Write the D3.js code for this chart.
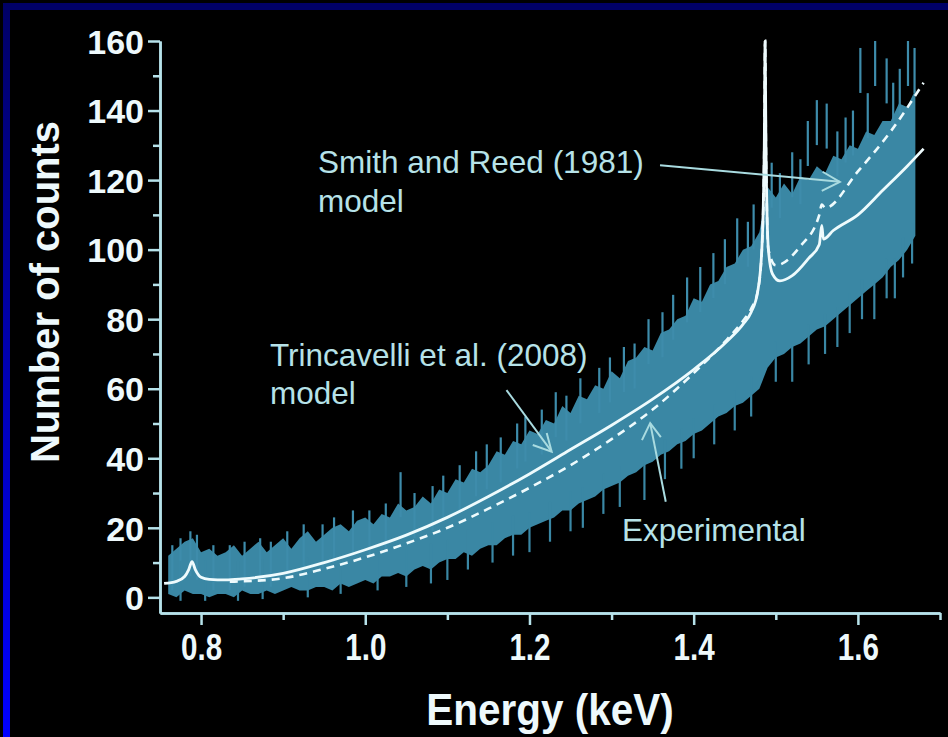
<!DOCTYPE html>
<html>
<head>
<meta charset="utf-8">
<script src="https://cdn.jsdelivr.net/npm/d3@7"></script>
<style>
  body { margin: 0; background: #000; }
  svg  { display: block; }
  .ticklab  { font-family: "Liberation Sans", Arial, sans-serif; font-weight: bold; fill: #eef9fc; }
  .note     { font-family: "Liberation Sans", Arial, sans-serif; fill: #b6e2e8; font-size: 31.5px; }
  .axistitle{ font-family: "Liberation Sans", Arial, sans-serif; font-weight: bold; fill: #eef9fc; }
</style>
</head>
<body>
<svg id="chart" width="948" height="737"></svg>
<script>
// tick values
var xMajor = [0.8, 1.0, 1.2, 1.4, 1.6];
var xMinor = [0.9, 1.1, 1.3, 1.5, 1.7];
var yMajor = [0, 20, 40, 60, 80, 100, 120, 140, 160];
var yMinor = [10, 30, 50, 70, 90, 110, 130, 150];

// experimental spectrum envelope: [energy keV, low, high]
var experimental = [
  [0.76,1,12],[0.77,0,14],[0.78,2,16],[0.79,1,17],[0.80,1,13],[0.81,0,14],[0.82,1,12],[0.83,1,13],
  [0.84,0,15],[0.85,2,12],[0.86,1,14],[0.87,1,16],[0.88,2,13],[0.89,1,15],[0.90,2,17],[0.91,3,14],
  [0.92,2,17],[0.93,2,19],[0.94,3,16],[0.95,3,18],[0.96,2,20],[0.97,4,21],[0.98,3,19],[0.99,4,22],
  [1.00,5,23],[1.01,4,21],[1.02,6,24],[1.03,6,23],[1.04,7,27],[1.05,6,25],[1.06,8,26],[1.07,9,29],
  [1.08,8,27],[1.09,10,31],[1.10,11,30],[1.11,11,34],[1.12,13,33],[1.13,12,37],[1.14,14,36],[1.15,15,38],
  [1.16,15,42],[1.17,17,41],[1.18,18,45],[1.19,18,44],[1.20,20,48],[1.21,21,47],[1.22,22,51],[1.23,23,50],
  [1.24,25,55],[1.25,25,53],[1.26,27,58],[1.27,28,57],[1.28,29,61],[1.29,31,60],[1.30,32,65],[1.31,33,63],
  [1.32,35,68],[1.33,36,69],[1.34,38,72],[1.35,39,71],[1.36,41,76],[1.37,42,77],[1.38,44,80],[1.39,45,81],
  [1.40,47,86],[1.41,48,85],[1.42,50,90],[1.43,52,91],[1.44,53,95],[1.45,55,96],[1.46,56,100],[1.47,58,101],
  [1.48,60,105],[1.49,66,118],[1.50,69,115],[1.51,70,119],[1.52,72,116],[1.53,73,121],[1.54,75,120],[1.55,77,124],
  [1.56,78,122],[1.57,80,127],[1.58,82,126],[1.59,84,130],[1.60,86,129],[1.61,88,134],[1.62,90,133],[1.63,92,137],
  [1.64,95,137],[1.65,97,142],[1.66,100,141],[1.67,104,146]
];

// single-channel spikes above the band: [energy, top]
var spikesUp = [
  [0.765,15],[0.775,17],[0.787,19],[0.795,18],[0.815,15],[0.835,15],[0.853,16],[0.872,17],[0.885,16],
  [0.905,19],[0.925,21],[0.948,21],[0.962,23],[0.985,25],[1.005,25],[1.025,27],[1.043,36],[1.06,30],
  [1.082,32],[1.095,35],[1.115,38],[1.135,42],[1.148,44],[1.165,46],[1.185,50],[1.195,52],[1.215,54],
  [1.232,59],[1.245,58],[1.262,63],[1.285,66],[1.298,69],[1.315,72],[1.328,73],[1.345,80],[1.362,82],
  [1.375,87],[1.392,92],[1.408,95],[1.424,99],[1.438,103],[1.453,109],[1.466,108],[1.473,113],[1.495,125],
  [1.505,122],[1.52,128],[1.53,126],[1.539,137],[1.55,143],[1.562,142],[1.575,134],[1.585,138],[1.594,140],
  [1.603,158],[1.612,145],[1.621,160],[1.635,155],[1.643,148],[1.651,152],[1.661,160],[1.669,158]
];
// single-channel dips below the band: [energy, bottom]
var spikesDown = [
  [0.775,-1],[0.805,-1],[0.845,-1],[0.875,-0.5],[0.93,0],[0.97,1],[1.015,2],[1.05,3],[1.08,4],[1.10,5],
  [1.125,8],[1.155,10],[1.18,12],[1.20,13],[1.225,16],[1.25,19],[1.265,20],[1.29,24],[1.31,26],[1.34,28],
  [1.365,34],[1.385,37],[1.40,40],[1.425,44],[1.45,48],[1.47,52],[1.50,62],[1.52,62],[1.54,67],[1.56,70],
  [1.575,72],[1.59,76],[1.605,80],[1.62,80],[1.635,86],[1.645,86],[1.655,92],[1.666,96]
];

// Trincavelli et al. (2008) model (solid)
var trincE = [0.755,0.77,0.78,0.785,0.789,0.793,0.80,0.81,0.83,0.85,0.90,0.95,1.00,1.05,1.10,1.15,1.20,1.25,1.30,1.35,1.40,1.44,1.46,1.47,1.478,1.483,1.486,1.487,1.488,1.491,1.496,1.505,1.52,1.54,1.553,1.556,1.558,1.57,1.60,1.63,1.66,1.68];
var trincY = [4.0,4.6,6,8,10.3,8,5.8,5.2,5.0,5.3,6.9,10,13.7,17.9,23,29,35.5,42.5,49.5,57,65.5,73.5,78.5,82,88,100,130,160,130,100,93,91,92.5,97.5,101.5,107,103,105.5,110,117,124,129];

// Smith and Reed (1981) model (dashed)
var smithE = [0.835,0.85,0.90,0.95,1.00,1.05,1.10,1.15,1.20,1.25,1.30,1.35,1.40,1.44,1.46,1.47,1.478,1.483,1.486,1.487,1.488,1.491,1.50,1.53,1.553,1.556,1.56,1.60,1.64,1.68];
var smithY = [4.5,4.6,5.5,8.2,11.5,15.5,20,25.5,31.5,38,45.5,54,64.5,74,79.5,83,88,100,130,160,130,100,95.5,101,110,113,112,122.5,134,148];

var svg = d3.select("#chart");

// frame
var grad = svg.append("defs").append("linearGradient")
    .attr("id", "leftbar").attr("x1", 0).attr("y1", 0).attr("x2", 0).attr("y2", 1);
grad.append("stop").attr("offset", "0%").attr("stop-color", "#000066");
grad.append("stop").attr("offset", "100%").attr("stop-color", "#0000ff");
svg.append("rect").attr("width", 948).attr("height", 737).attr("fill", "#000");
svg.append("rect").attr("x", 3).attr("y", 3).attr("width", 945).attr("height", 7).attr("fill", "#000066");
svg.append("rect").attr("x", 3).attr("y", 3).attr("width", 7).attr("height", 734).attr("fill", "url(#leftbar)");

var x = d3.scaleLinear().domain([0.75, 1.70]).range([160, 940]);
var y = d3.scaleLinear().domain([-4.5, 160]).range([613, 41]);

var bandColor = "#3a87a4";

// experimental band
var band = d3.area()
    .x(function(d) { return x(d[0]); })
    .y0(function(d) { return y(d[1]); })
    .y1(function(d) { return y(d[2]); });
svg.append("path")
    .datum(experimental)
    .attr("d", band)
    .attr("fill", bandColor);
svg.selectAll(".spikeup")
    .data(spikesUp)
  .enter().append("line")
    .attr("class", "spikeup")
    .attr("x1", function(d) { return x(d[0]); })
    .attr("x2", function(d) { return x(d[0]); })
    .attr("y1", function(d) { return y(d[1]); })
    .attr("y2", function(d) { return y(d[1]) + 45; })
    .attr("stroke", "#3e8cab")
    .attr("stroke-width", 2.2);
svg.selectAll(".spikedown")
    .data(spikesDown)
  .enter().append("line")
    .attr("class", "spikedown")
    .attr("x1", function(d) { return x(d[0]); })
    .attr("x2", function(d) { return x(d[0]); })
    .attr("y1", function(d) { return y(d[1]); })
    .attr("y2", function(d) { return y(d[1]) - 40; })
    .attr("stroke", bandColor)
    .attr("stroke-width", 2.2);

// models
var line = d3.line()
    .x(function(d) { return x(d[0]); })
    .y(function(d) { return y(d[1]); })
    .curve(d3.curveMonotoneX);
svg.append("path")
    .datum(d3.zip(smithE, smithY))
    .attr("d", line)
    .attr("fill", "none")
    .attr("stroke", "#eefbfd")
    .attr("stroke-width", 2.6)
    .attr("stroke-dasharray", "8,6");
svg.append("path")
    .datum(d3.zip(trincE, trincY))
    .attr("d", line)
    .attr("fill", "none")
    .attr("stroke", "#eefbfd")
    .attr("stroke-width", 2.8);

// axes
var axisColor = "#b6e2ea";
function styleAxis(g) {
    g.selectAll("path, line").attr("stroke", axisColor).attr("stroke-width", 2.5);
    g.selectAll("text").attr("class", "ticklab").attr("fill", null);
}
var gy = svg.append("g").attr("transform", "translate(160,0)")
    .call(d3.axisLeft(y).tickValues(yMajor).tickSize(12).tickSizeOuter(0).tickPadding(4));
styleAxis(gy);
gy.selectAll("text").style("font-size", "34px").attr("dy", "0.36em");
var gy2 = svg.append("g").attr("transform", "translate(160,0)")
    .call(d3.axisLeft(y).tickValues(yMinor).tickSize(7).tickSizeOuter(0).tickFormat(""));
styleAxis(gy2);

var gx = svg.append("g").attr("transform", "translate(0,613)")
    .call(d3.axisBottom(x).tickValues(xMajor).tickSize(12).tickSizeOuter(0).tickPadding(9).tickFormat(d3.format(".1f")));
styleAxis(gx);
// labels are drawn condensed around their tick
gx.selectAll(".tick text").style("font-size", "37px").attr("transform", "scale(0.8,1)");
var gx2 = svg.append("g").attr("transform", "translate(0,613)")
    .call(d3.axisBottom(x).tickValues(xMinor).tickSize(7).tickSizeOuter(0).tickFormat(""));
styleAxis(gx2);

// axis titles
svg.append("text").attr("class", "axistitle")
    .attr("transform", "translate(550,725) scale(0.92,1)")
    .attr("text-anchor", "middle")
    .style("font-size", "44px")
    .text("Energy (keV)");
svg.append("text").attr("class", "axistitle")
    .attr("transform", "translate(59,292) rotate(-90)")
    .attr("text-anchor", "middle")
    .style("font-size", "40px")
    .text("Number of counts");

// annotations
var notes = [
  { x: 318, y: 173, t: "Smith and Reed (1981)" },
  { x: 318, y: 212, t: "model" },
  { x: 270, y: 366, t: "Trincavelli et al. (2008)" },
  { x: 270, y: 404, t: "model" },
  { x: 622, y: 541, t: "Experimental" }
];
svg.selectAll(".note").data(notes).enter().append("text")
    .attr("class", "note")
    .attr("x", function(d) { return d.x; })
    .attr("y", function(d) { return d.y; })
    .text(function(d) { return d.t; });

// arrows: [tail, tip, head1, head2] in data units
var arrows = [
  [[1.359,124.3],[1.578,119.5],[1.557,122.4],[1.556,116.9]],
  [[1.172,59.6],[1.227,41.9],[1.204,43.8],[1.221,47.3]],
  [[1.366,27.5],[1.347,50.1],[1.337,45.2],[1.360,46.1]]
];
arrows.forEach(function(a) {
    var g = svg.append("g").attr("stroke", "#a9dbe0").attr("stroke-width", 2).attr("fill", "none");
    g.append("line").attr("x1", x(a[0][0])).attr("y1", y(a[0][1])).attr("x2", x(a[1][0])).attr("y2", y(a[1][1]));
    g.append("polyline").attr("points", [a[2], a[1], a[3]].map(function(p) { return x(p[0]) + "," + y(p[1]); }).join(" "));
});
</script>
</body>
</html>
